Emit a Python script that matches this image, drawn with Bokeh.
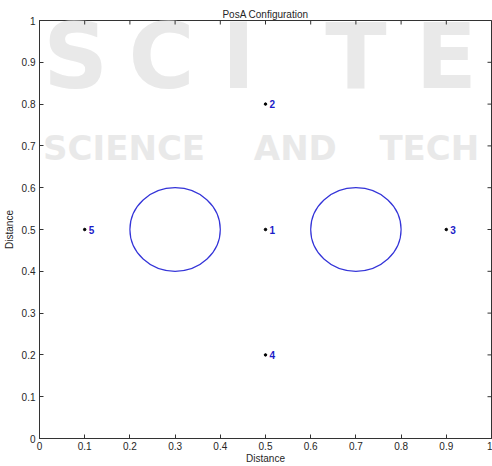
import math
from bokeh.plotting import figure
from bokeh.models import ColumnDataSource, Range1d, LinearAxis, FixedTicker, Label
from bokeh.core.properties import value
from bokeh.embed import file_html
from bokeh.resources import INLINE

# ---- data ----
node_ids = ["1", "2", "3", "4", "5"]
node_x = [0.5, 0.5, 0.9, 0.5, 0.1]
node_y = [0.5, 0.8, 0.5, 0.2, 0.5]

obstacle_x = [0.3, 0.7]
obstacle_y = [0.5, 0.5]
obstacle_r = [0.1, 0.1]

tick_vals = [0, 0.1, 0.2, 0.3, 0.4, 0.5, 0.6, 0.7, 0.8, 0.9, 1]
tick_labels = ["0", "0.1", "0.2", "0.3", "0.4", "0.5", "0.6", "0.7", "0.8", "0.9", "1"]

title_text = "PosA Configuration"
x_label = "Distance"
y_label = "Distance"

FONT = "Liberation Sans"
TXT = "#262626"
AX = "#333333"

p = figure(width=492, height=466, output_backend="svg", toolbar_location=None,
           x_range=Range1d(0, 1), y_range=Range1d(0, 1),
           x_axis_location=None, y_axis_location=None,
           min_border_left=39, min_border_right=1, min_border_top=20, min_border_bottom=0)
p.grid.visible = False
p.outline_line_color = AX
p.outline_line_width = 1
p.background_fill_color = "white"
p.border_fill_color = "white"

p.title.text = title_text
p.title.text_font = FONT
p.title.text_font_size = "10px"
p.title.text_font_style = "normal"
p.title.text_color = TXT
p.title.align = "center"
p.title.standoff = 2
p.title.offset = 0

overrides = {v: l for v, l in zip(tick_vals, tick_labels)}

def make_axis(label):
    ax = LinearAxis(ticker=FixedTicker(ticks=tick_vals))
    ax.major_label_overrides = overrides
    ax.major_tick_in = 4
    ax.major_tick_out = 0
    ax.minor_tick_line_color = None
    ax.axis_line_color = AX
    ax.major_tick_line_color = AX
    ax.major_label_text_font = FONT
    ax.major_label_text_color = TXT
    ax.major_label_text_font_size = "10px"
    ax.major_label_standoff = 4
    ax.axis_label = label
    ax.axis_label_text_font = FONT
    ax.axis_label_text_font_size = "10px"
    ax.axis_label_text_font_style = "normal"
    ax.axis_label_text_color = TXT
    ax.axis_label_standoff = 1
    return ax

xa = make_axis(x_label)
xa.major_label_standoff = 3
xa.axis_label_standoff = 0
p.add_layout(xa, "below")
ya = make_axis(y_label)
ya.axis_label_standoff = 4
p.add_layout(ya, "left")

# mirrored inward ticks on the top and right edges of the box (clipped to the frame)
p.scatter(x=tick_vals, y=[1] * len(tick_vals), marker="dash", angle=math.pi / 2,
          size=8, line_color=AX, line_width=1)
p.scatter(x=[1] * len(tick_vals), y=tick_vals, marker="dash", angle=0,
          size=8, line_color=AX, line_width=1)

# ---- watermark (background artifact of the source image) ----
WM = "#e9e9e9"
WF = "DejaVu Sans"
for ch, cx in [("S", 0.08), ("C", 0.27), ("I", 0.44), ("T", 0.70), ("E", 0.90)]:
    p.add_layout(Label(x=cx, y=0.915, text=ch, text_align="center", text_baseline="middle",
                       text_font=WF, text_font_style="bold", text_font_size="90px",
                       text_color=WM, level="underlay"))
for word, cx, al in [("SCIENCE", 0.008, "left"), ("AND", 0.566, "center"), ("TECH", 0.752, "left")]:
    p.add_layout(Label(x=cx, y=0.696, text=word, text_align=al, text_baseline="middle",
                       text_font=WF, text_font_style="bold", text_font_size="34px",
                       text_color=WM, level="underlay"))

# ---- obstacles ----
obs = ColumnDataSource(dict(x=obstacle_x, y=obstacle_y,
                            w=[2 * r for r in obstacle_r], h=[2 * r for r in obstacle_r]))
p.ellipse(x="x", y="y", width="w", height="h", source=obs,
          fill_color=None, line_color="#3434d8", line_width=1.2)

# ---- nodes ----
nodes = ColumnDataSource(dict(x=node_x, y=node_y, t=node_ids))
p.scatter(x="x", y="y", source=nodes, size=2.5, color="black")
p.text(x="x", y="y", text="t", source=nodes, x_offset=4,
       text_font=value(FONT), text_font_style="bold", text_font_size="10px",
       text_color="#1c1cc8", text_baseline="middle", text_align="left")

open("out.html", "w").write(file_html(p, INLINE))
